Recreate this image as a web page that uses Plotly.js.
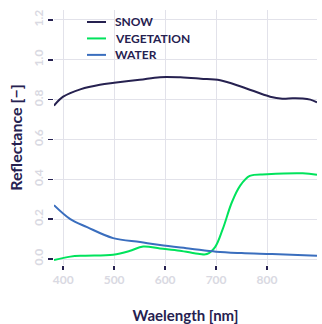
<!DOCTYPE html>
<html><head><meta charset="utf-8">
<script src="https://cdn.plot.ly/plotly-3.0.1.min.js"></script>
<style>html,body{margin:0;padding:0;background:#fff;}#chart{width:322px;height:324px;}</style>
</head><body><div id="chart"></div>
<script>
const seriesNames = ['SNOW', 'VEGETATION', 'WATER'];
const seriesColors = ['#262150', '#00e35c', '#3a6ebe'];
const snowX = [382, 400, 435, 472, 500, 550, 590, 630, 670, 708, 750, 806, 830, 850, 870, 885, 898];
const snowY = [0.77, 0.815, 0.853, 0.875, 0.885, 0.9, 0.913, 0.912, 0.905, 0.897, 0.865, 0.815, 0.805, 0.807, 0.806, 0.8, 0.787];
const vegX = [382, 414, 440, 498, 530, 557, 590, 629, 668, 682, 698, 713, 731, 747, 766, 800, 870, 898];
const vegY = [-0.005, 0.012, 0.017, 0.022, 0.04, 0.063, 0.053, 0.042, 0.025, 0.025, 0.06, 0.15, 0.285, 0.367, 0.417, 0.425, 0.43, 0.423];
const waterX = [382, 414, 447, 498, 551, 590, 650, 700, 750, 810, 898];
const waterY = [0.27, 0.2, 0.16, 0.105, 0.085, 0.07, 0.052, 0.037, 0.03, 0.025, 0.017];
const xTicks = [400, 500, 600, 700, 800];
const yTicks = [0, 0.2, 0.4, 0.6, 0.8, 1.0, 1.2];
const yTickText = ['0.0', '0.2', '0.4', '0.6', '0.8', '1.0', '1.2'];

const navy = '#262150';
const fontFam = 'Lato, "Open Sans", sans-serif';
const xs = [snowX, vegX, waterX];
const ys = [snowY, vegY, waterY];
const traces = seriesNames.map((n, i) => ({
  x: xs[i], y: ys[i], name: n, mode: 'lines', showlegend: false,
  line: {color: seriesColors[i], width: 2, shape: 'spline'}
}));

// custom legend (tighter row spacing than Plotly's built-in legend)
const legTop = 0.953, legStep = 0.0645;
const shapes = [], annotations = [];
seriesNames.forEach((n, i) => {
  const yy = legTop - i * legStep;
  shapes.push({type: 'line', xref: 'paper', yref: 'paper', x0: 0.1255, x1: 0.1977, y0: yy, y1: yy,
               line: {color: seriesColors[i], width: 2}});
  annotations.push({xref: 'paper', yref: 'paper', x: 0.2243, y: yy, xanchor: 'left', yanchor: 'middle',
                    text: n, showarrow: false, font: {family: fontFam, size: 12, color: navy, weight: 700}});
});

const layout = {
  width: 322, height: 324,
  margin: {l: 54, r: 5, t: 10, b: 59},
  paper_bgcolor: '#fff', plot_bgcolor: '#fff',
  showlegend: false,
  shapes: shapes, annotations: annotations,
  xaxis: {range: [382, 898], tickvals: xTicks, ticks: 'outside', ticklen: 4, tickwidth: 1.5, tickcolor: navy,
          showgrid: true, gridcolor: '#e2e2ea', gridwidth: 1, zeroline: false, showline: false,
          tickfont: {family: fontFam, size: 12, color: '#d9d9e2', weight: 700},
          title: {text: 'Waelength [nm]', font: {family: fontFam, size: 15, color: navy, weight: 700}, standoff: 24}},
  yaxis: {range: [-0.03, 1.25], tickvals: yTicks, ticktext: yTickText, tickangle: -90, ticks: 'outside', ticklen: 5, tickwidth: 1.5, tickcolor: navy,
          showgrid: true, gridcolor: '#e2e2ea', gridwidth: 1, zeroline: false, showline: false,
          tickfont: {family: fontFam, size: 12, color: '#d9d9e2', weight: 700},
          title: {text: 'Reflectance [−]', font: {family: fontFam, size: 16, color: navy, weight: 700}, standoff: 4}}
};
Plotly.newPlot('chart', traces, layout, {displayModeBar: false, staticPlot: true});
</script></body></html>
